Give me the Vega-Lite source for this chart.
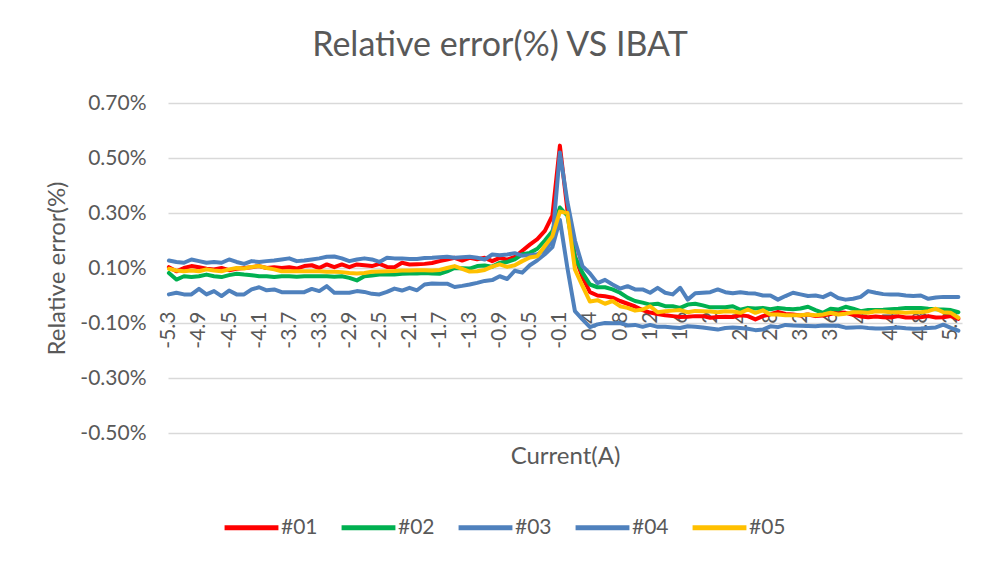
{
  "$schema": "https://vega.github.io/schema/vega-lite/v6.json",
  "width": 794,
  "height": 330,
  "autosize": {"type": "none"},
  "padding": {"left": 168, "top": 103, "right": 23, "bottom": 130},
  "background": "#ffffff",
  "title": {
    "text": "Relative error(%) VS IBAT",
    "font": "Lato",
    "fontSize": 34,
    "fontWeight": "normal",
    "color": "#595959",
    "anchor": "middle",
    "dx": -65,
    "offset": 29
  },
  "datasets": {
    "err": [
      {"c":"-5.3","#01":0.103,"#02":0.082,"#03":0.127,"#04":0.004,"#05":0.097},
      {"c":"-5.2","#01":0.088,"#02":0.058,"#03":0.122,"#04":0.010,"#05":0.091},
      {"c":"-5.1","#01":0.100,"#02":0.070,"#03":0.119,"#04":0.004,"#05":0.088},
      {"c":"-5","#01":0.107,"#02":0.067,"#03":0.131,"#04":0.004,"#05":0.091},
      {"c":"-4.9","#01":0.103,"#02":0.070,"#03":0.125,"#04":0.024,"#05":0.088},
      {"c":"-4.8","#01":0.097,"#02":0.076,"#03":0.119,"#04":0.004,"#05":0.095},
      {"c":"-4.7","#01":0.095,"#02":0.070,"#03":0.122,"#04":0.016,"#05":0.091},
      {"c":"-4.6","#01":0.100,"#02":0.067,"#03":0.119,"#04":-0.002,"#05":0.088},
      {"c":"-4.5","#01":0.092,"#02":0.074,"#03":0.131,"#04":0.018,"#05":0.095},
      {"c":"-4.4","#01":0.097,"#02":0.079,"#03":0.122,"#04":0.004,"#05":0.100},
      {"c":"-4.3","#01":0.100,"#02":0.076,"#03":0.115,"#04":0.004,"#05":0.098},
      {"c":"-4.2","#01":0.103,"#02":0.074,"#03":0.125,"#04":0.022,"#05":0.104},
      {"c":"-4.1","#01":0.107,"#02":0.070,"#03":0.122,"#04":0.030,"#05":0.107},
      {"c":"-4","#01":0.100,"#02":0.070,"#03":0.125,"#04":0.019,"#05":0.100},
      {"c":"-3.9","#01":0.103,"#02":0.067,"#03":0.127,"#04":0.022,"#05":0.095},
      {"c":"-3.8","#01":0.100,"#02":0.070,"#03":0.131,"#04":0.012,"#05":0.088},
      {"c":"-3.7","#01":0.103,"#02":0.070,"#03":0.135,"#04":0.012,"#05":0.088},
      {"c":"-3.6","#01":0.098,"#02":0.068,"#03":0.125,"#04":0.012,"#05":0.088},
      {"c":"-3.5","#01":0.107,"#02":0.070,"#03":0.127,"#04":0.012,"#05":0.088},
      {"c":"-3.4","#01":0.110,"#02":0.070,"#03":0.131,"#04":0.024,"#05":0.088},
      {"c":"-3.3","#01":0.100,"#02":0.070,"#03":0.135,"#04":0.016,"#05":0.088},
      {"c":"-3.2","#01":0.113,"#02":0.070,"#03":0.141,"#04":0.034,"#05":0.086},
      {"c":"-3.1","#01":0.103,"#02":0.068,"#03":0.142,"#04":0.010,"#05":0.086},
      {"c":"-3","#01":0.113,"#02":0.070,"#03":0.135,"#04":0.010,"#05":0.085},
      {"c":"-2.9","#01":0.103,"#02":0.064,"#03":0.125,"#04":0.010,"#05":0.082},
      {"c":"-2.8","#01":0.113,"#02":0.055,"#03":0.131,"#04":0.016,"#05":0.080},
      {"c":"-2.7","#01":0.110,"#02":0.070,"#03":0.135,"#04":0.013,"#05":0.082},
      {"c":"-2.6","#01":0.107,"#02":0.073,"#03":0.131,"#04":0.006,"#05":0.086},
      {"c":"-2.5","#01":0.115,"#02":0.076,"#03":0.122,"#04":0.004,"#05":0.087},
      {"c":"-2.4","#01":0.104,"#02":0.076,"#03":0.137,"#04":0.013,"#05":0.088},
      {"c":"-2.3","#01":0.103,"#02":0.076,"#03":0.135,"#04":0.025,"#05":0.089},
      {"c":"-2.2","#01":0.119,"#02":0.079,"#03":0.135,"#04":0.018,"#05":0.091},
      {"c":"-2.1","#01":0.113,"#02":0.080,"#03":0.133,"#04":0.028,"#05":0.091},
      {"c":"-2","#01":0.114,"#02":0.080,"#03":0.133,"#04":0.019,"#05":0.092},
      {"c":"-1.9","#01":0.115,"#02":0.082,"#03":0.136,"#04":0.040,"#05":0.092},
      {"c":"-1.8","#01":0.118,"#02":0.080,"#03":0.137,"#04":0.044,"#05":0.091},
      {"c":"-1.7","#01":0.125,"#02":0.079,"#03":0.139,"#04":0.043,"#05":0.093},
      {"c":"-1.6","#01":0.131,"#02":0.088,"#03":0.141,"#04":0.043,"#05":0.100},
      {"c":"-1.5","#01":0.137,"#02":0.100,"#03":0.137,"#04":0.031,"#05":0.107},
      {"c":"-1.4","#01":0.127,"#02":0.099,"#03":0.139,"#04":0.035,"#05":0.097},
      {"c":"-1.3","#01":0.137,"#02":0.098,"#03":0.141,"#04":0.040,"#05":0.087},
      {"c":"-1.2","#01":0.132,"#02":0.107,"#03":0.137,"#04":0.046,"#05":0.088},
      {"c":"-1.1","#01":0.137,"#02":0.109,"#03":0.131,"#04":0.053,"#05":0.093},
      {"c":"-1","#01":0.125,"#02":0.105,"#03":0.149,"#04":0.056,"#05":0.105},
      {"c":"-0.9","#01":0.137,"#02":0.119,"#03":0.146,"#04":0.070,"#05":0.113},
      {"c":"-0.8","#01":0.130,"#02":0.122,"#03":0.149,"#04":0.060,"#05":0.104},
      {"c":"-0.7","#01":0.140,"#02":0.131,"#03":0.154,"#04":0.090,"#05":0.110},
      {"c":"-0.6","#01":0.163,"#02":0.150,"#03":0.145,"#04":0.083,"#05":0.125},
      {"c":"-0.5","#01":0.185,"#02":0.155,"#03":0.146,"#04":0.110,"#05":0.138},
      {"c":"-0.4","#01":0.205,"#02":0.170,"#03":0.150,"#04":0.128,"#05":0.143},
      {"c":"-0.3","#01":0.235,"#02":0.200,"#03":0.164,"#04":0.150,"#05":0.180},
      {"c":"-0.2","#01":0.290,"#02":0.234,"#03":0.200,"#04":0.176,"#05":0.216},
      {"c":"-0.1","#01":0.545,"#02":0.320,"#03":0.520,"#04":0.275,"#05":0.305},
      {"c":"0.1","#01":0.310,"#02":0.290,"#03":0.340,"#04":0.100,"#05":0.300},
      {"c":"0.2","#01":0.143,"#02":0.140,"#03":0.200,"#04":-0.057,"#05":0.095},
      {"c":"0.3","#01":0.067,"#02":0.083,"#03":0.107,"#04":-0.087,"#05":0.035},
      {"c":"0.4","#01":0.012,"#02":0.040,"#03":0.080,"#04":-0.115,"#05":-0.022},
      {"c":"0.5","#01":0.000,"#02":0.030,"#03":0.045,"#04":-0.105,"#05":-0.017},
      {"c":"0.6","#01":-0.003,"#02":0.030,"#03":0.057,"#04":-0.100,"#05":-0.030},
      {"c":"0.7","#01":-0.008,"#02":0.022,"#03":0.040,"#04":-0.101,"#05":-0.020},
      {"c":"0.8","#01":-0.020,"#02":0.010,"#03":0.025,"#04":-0.100,"#05":-0.039},
      {"c":"0.9","#01":-0.030,"#02":-0.008,"#03":0.034,"#04":-0.109,"#05":-0.045},
      {"c":"1","#01":-0.040,"#02":-0.020,"#03":0.022,"#04":-0.107,"#05":-0.055},
      {"c":"1.1","#01":-0.053,"#02":-0.026,"#03":0.022,"#04":-0.114,"#05":-0.051},
      {"c":"1.2","#01":-0.062,"#02":-0.033,"#03":0.010,"#04":-0.107,"#05":-0.039},
      {"c":"1.3","#01":-0.067,"#02":-0.030,"#03":0.028,"#04":-0.114,"#05":-0.061},
      {"c":"1.4","#01":-0.072,"#02":-0.039,"#03":0.010,"#04":-0.114,"#05":-0.057},
      {"c":"1.5","#01":-0.075,"#02":-0.039,"#03":0.004,"#04":-0.116,"#05":-0.055},
      {"c":"1.6","#01":-0.078,"#02":-0.045,"#03":0.028,"#04":-0.118,"#05":-0.053},
      {"c":"1.7","#01":-0.077,"#02":-0.033,"#03":-0.015,"#04":-0.112,"#05":-0.061},
      {"c":"1.8","#01":-0.075,"#02":-0.030,"#03":0.008,"#04":-0.114,"#05":-0.056},
      {"c":"1.9","#01":-0.075,"#02":-0.036,"#03":0.010,"#04":-0.116,"#05":-0.057},
      {"c":"2","#01":-0.081,"#02":-0.043,"#03":0.012,"#04":-0.120,"#05":-0.058},
      {"c":"2.1","#01":-0.078,"#02":-0.043,"#03":0.022,"#04":-0.124,"#05":-0.061},
      {"c":"2.2","#01":-0.077,"#02":-0.043,"#03":0.012,"#04":-0.118,"#05":-0.057},
      {"c":"2.3","#01":-0.078,"#02":-0.039,"#03":0.008,"#04":-0.116,"#05":-0.058},
      {"c":"2.4","#01":-0.072,"#02":-0.052,"#03":0.012,"#04":-0.118,"#05":-0.063},
      {"c":"2.5","#01":-0.075,"#02":-0.045,"#03":0.008,"#04":-0.121,"#05":-0.051},
      {"c":"2.6","#01":-0.087,"#02":-0.047,"#03":0.007,"#04":-0.126,"#05":-0.063},
      {"c":"2.7","#01":-0.075,"#02":-0.045,"#03":0.000,"#04":-0.124,"#05":-0.054},
      {"c":"2.8","#01":-0.068,"#02":-0.050,"#03":0.000,"#04":-0.112,"#05":-0.069},
      {"c":"2.9","#01":-0.060,"#02":-0.045,"#03":-0.015,"#04":-0.115,"#05":-0.069},
      {"c":"3","#01":-0.067,"#02":-0.048,"#03":-0.002,"#04":-0.107,"#05":-0.072},
      {"c":"3.1","#01":-0.069,"#02":-0.050,"#03":0.010,"#04":-0.109,"#05":-0.072},
      {"c":"3.2","#01":-0.073,"#02":-0.047,"#03":0.004,"#04":-0.110,"#05":-0.072},
      {"c":"3.3","#01":-0.069,"#02":-0.041,"#03":-0.002,"#04":-0.111,"#05":-0.069},
      {"c":"3.4","#01":-0.075,"#02":-0.053,"#03":0.000,"#04":-0.112,"#05":-0.072},
      {"c":"3.5","#01":-0.073,"#02":-0.063,"#03":-0.006,"#04":-0.109,"#05":-0.069},
      {"c":"3.6","#01":-0.067,"#02":-0.048,"#03":0.007,"#04":-0.110,"#05":-0.063},
      {"c":"3.7","#01":-0.061,"#02":-0.051,"#03":-0.009,"#04":-0.110,"#05":-0.069},
      {"c":"3.8","#01":-0.063,"#02":-0.041,"#03":-0.015,"#04":-0.117,"#05":-0.066},
      {"c":"3.9","#01":-0.070,"#02":-0.048,"#03":-0.012,"#04":-0.116,"#05":-0.061},
      {"c":"4","#01":-0.076,"#02":-0.057,"#03":-0.005,"#04":-0.115,"#05":-0.061},
      {"c":"4.1","#01":-0.079,"#02":-0.053,"#03":0.016,"#04":-0.118,"#05":-0.063},
      {"c":"4.2","#01":-0.076,"#02":-0.053,"#03":0.010,"#04":-0.120,"#05":-0.057},
      {"c":"4.3","#01":-0.079,"#02":-0.052,"#03":0.005,"#04":-0.120,"#05":-0.058},
      {"c":"4.4","#01":-0.080,"#02":-0.050,"#03":0.004,"#04":-0.118,"#05":-0.061},
      {"c":"4.5","#01":-0.075,"#02":-0.048,"#03":0.004,"#04":-0.116,"#05":-0.061},
      {"c":"4.6","#01":-0.080,"#02":-0.045,"#03":0.000,"#04":-0.119,"#05":-0.063},
      {"c":"4.7","#01":-0.080,"#02":-0.045,"#03":-0.002,"#04":-0.121,"#05":-0.061},
      {"c":"4.8","#01":-0.079,"#02":-0.045,"#03":0.000,"#04":-0.120,"#05":-0.061},
      {"c":"4.9","#01":-0.075,"#02":-0.048,"#03":-0.012,"#04":-0.118,"#05":-0.057},
      {"c":"5","#01":-0.080,"#02":-0.050,"#03":-0.007,"#04":-0.116,"#05":-0.048},
      {"c":"5.1","#01":-0.079,"#02":-0.051,"#03":-0.005,"#04":-0.106,"#05":-0.061},
      {"c":"5.2","#01":-0.075,"#02":-0.053,"#03":-0.005,"#04":-0.118,"#05":-0.063},
      {"c":"5.3","#01":-0.085,"#02":-0.061,"#03":-0.005,"#04":-0.128,"#05":-0.081}
    ]
  },
  "data": {"name": "err"},
  "transform": [
    {"fold": ["#01", "#02", "#03", "#04", "#05"], "as": ["series", "value"]}
  ],
  "mark": {"type": "line", "strokeWidth": 4, "strokeJoin": "round", "strokeCap": "round"},
  "encoding": {
    "x": {
      "field": "c",
      "type": "ordinal",
      "sort": null,
      "scale": {"type": "point", "padding": 0.3, "align": 0.2},
      "axis": {
        "orient": "bottom",
        "offset": -124,
        "title": "Current(A)",
        "titleFont": "Lato",
        "titleFontSize": 24,
        "titleFontWeight": "normal",
        "titleColor": "#595959",
        "titleY": 147,
        "titleBaseline": "middle",
        "labelAngle": -90,
        "labelFont": "Lato",
        "labelFontSize": 21,
        "labelColor": "#595959",
        "labelPadding": 2,
        "labelOverlap": false,
        "labelBound": false,
        "ticks": false,
        "tickSize": 0,
        "domain": false,
        "grid": false,
        "values": ["-5.3","-4.9","-4.5","-4.1","-3.7","-3.3","-2.9","-2.5","-2.1","-1.7","-1.3","-0.9","-0.5","-0.1","0.4","0.8","1.2","1.6","2","2.4","2.8","3.2","3.6","4","4.4","4.8","5.2"]
      }
    },
    "y": {
      "field": "value",
      "type": "quantitative",
      "scale": {"domain": [-0.5, 0.7], "nice": false, "zero": false},
      "axis": {
        "title": "Relative error(%)",
        "titleFont": "Lato",
        "titleFontSize": 24,
        "titleFontWeight": "normal",
        "titleColor": "#595959",
        "titlePadding": 10,
        "values": [-0.5, -0.3, -0.1, 0.1, 0.3, 0.5, 0.7],
        "labelExpr": "(datum.value < 0 ? '-' : '') + format(abs(datum.value), '.2f') + '%'",
        "labelFont": "Lato",
        "labelFontSize": 21,
        "labelColor": "#595959",
        "labelPadding": 22,
        "ticks": false,
        "domain": false,
        "grid": true,
        "gridColor": "#D9D9D9",
        "gridWidth": 1.3
      }
    },
    "color": {
      "field": "series",
      "type": "nominal",
      "scale": {
        "domain": ["#01", "#02", "#03", "#04", "#05"],
        "range": ["#FF0000", "#00B050", "#4F81BD", "#4F81BD", "#FFC000"]
      },
      "legend": {
        "orient": "none",
        "direction": "horizontal",
        "legendX": 54,
        "legendY": 395,
        "title": null,
        "padding": 0,
        "symbolType": "stroke",
        "symbolSize": 2900,
        "symbolStrokeWidth": 5,
        "labelFont": "Lato",
        "labelFontSize": 21,
        "labelColor": "#595959",
        "labelOffset": 0,
        "columnPadding": 13
      }
    }
  },
  "config": {
    "view": {"stroke": null}
  }
}
